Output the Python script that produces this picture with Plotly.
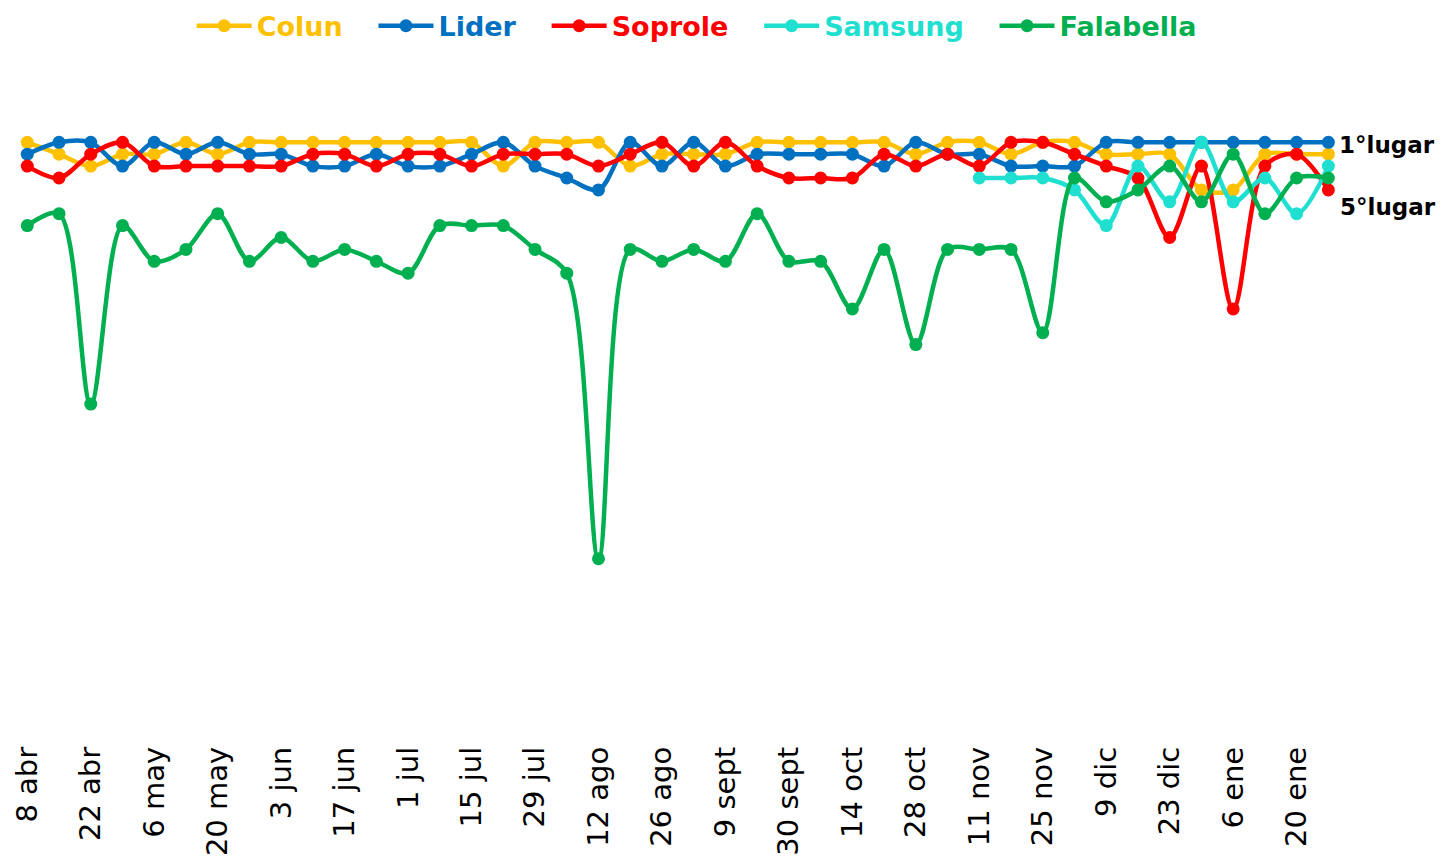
import plotly.graph_objects as go

dates = ["8 abr", "15 abr", "22 abr", "29 abr", "6 may", "13 may", "20 may", "27 may",
         "3 jun", "10 jun", "17 jun", "24 jun", "1 jul", "8 jul", "15 jul", "22 jul",
         "29 jul", "5 ago", "12 ago", "19 ago", "26 ago", "2 sept", "9 sept", "16 sept",
         "30 sept", "7 oct", "14 oct", "21 oct", "28 oct", "4 nov", "11 nov", "18 nov",
         "25 nov", "2 dic", "9 dic", "16 dic", "23 dic", "30 dic", "6 ene", "13 ene",
         "20 ene", "27 ene"]
tick_labels = dates[::2]

colun = [1, 2, 3, 2, 2, 1, 2, 1, 1, 1, 1, 1, 1, 1, 1, 3, 1, 1, 1, 3, 2, 2,
         2, 1, 1, 1, 1, 1, 2, 1, 1, 2, 1, 1, 2, 2, 2, 5, 5, 2, 2, 2]
lider = [2, 1, 1, 3, 1, 2, 1, 2, 2, 3, 3, 2, 3, 3, 2, 1, 3, 4, 5, 1, 3, 1,
         3, 2, 2, 2, 2, 3, 1, 2, 2, 3, 3, 3, 1, 1, 1, 1, 1, 1, 1, 1]
soprole = [3, 4, 2, 1, 3, 3, 3, 3, 3, 2, 2, 3, 2, 2, 3, 2, 2, 2, 3, 2, 1, 3,
           1, 3, 4, 4, 4, 2, 3, 2, 3, 1, 1, 2, 3, 4, 9, 3, 15, 3, 2, 5]
samsung = [None] * 30 + [4, 4, 4, 5, 8, 3, 6, 1, 6, 4, 7, 3]
falabella = [8, 7, 23, 8, 11, 10, 7, 11, 9, 11, 10, 11, 12, 8, 8, 8, 10, 12, 36, 10, 11, 10,
             11, 7, 11, 11, 15, 10, 18, 10, 10, 10, 17, 4, 6, 5, 3, 6, 2, 7, 4, 4]

series = [
    ("Colun", colun, "#FFC000"),
    ("Lider", lider, "#0070C0"),
    ("Soprole", soprole, "#FF0000"),
    ("Samsung", samsung, "#1FE0D0"),
    ("Falabella", falabella, "#00B050"),
]

FONT = "DejaVu Sans"

fig = go.Figure()
for k, (name, vals, color) in enumerate(series):
    pad = "&nbsp;&nbsp;&nbsp;" if k < len(series) - 1 else ""
    fig.add_trace(go.Scatter(
        x=dates, y=vals, mode="lines+markers",
        name=f"<b><span style='color:{color}'>{name}</span></b>{pad}",
        line=dict(color=color, width=4.5, shape="spline", smoothing=0.9),
        marker=dict(color=color, size=13),
        connectgaps=False,
    ))

fig.update_layout(
    width=1442, height=858,
    margin=dict(l=10, r=100, t=100, b=118, autoexpand=False),
    paper_bgcolor="white", plot_bgcolor="white",
    font=dict(family=FONT, color="black"),
    showlegend=True,
    legend=dict(orientation="h", x=0.5155, xanchor="center", xref="paper",
                y=0.998, yanchor="top", yref="container",
                font=dict(family=FONT, size=27), itemwidth=55,
                bgcolor="rgba(0,0,0,0)"),
    xaxis=dict(type="category", categoryorder="array", categoryarray=dates,
               range=[-0.545, 41.43], showgrid=False, zeroline=False, showline=False,
               automargin=False,
               ticks="", tickmode="array", tickvals=tick_labels, ticktext=tick_labels,
               tickangle=-90, tickfont=dict(family=FONT, size=29, color="black")),
    yaxis=dict(range=[51.23, -2.555], visible=False, showgrid=False, zeroline=False,
               automargin=False),
    annotations=[
        dict(text="<b>1°lugar</b>", xref="paper", yref="paper", x=0.996, y=0.9297,
             xanchor="left", yanchor="middle", showarrow=False,
             font=dict(family=FONT, size=23, color="black")),
        dict(text="<b>5°lugar</b>", xref="paper", yref="paper", x=0.997, y=0.8328,
             xanchor="left", yanchor="middle", showarrow=False,
             font=dict(family=FONT, size=23, color="black")),
    ],
)

fig.write_html("out.html", config={"displayModeBar": False},
               post_script="document.body.style.margin='0';")
